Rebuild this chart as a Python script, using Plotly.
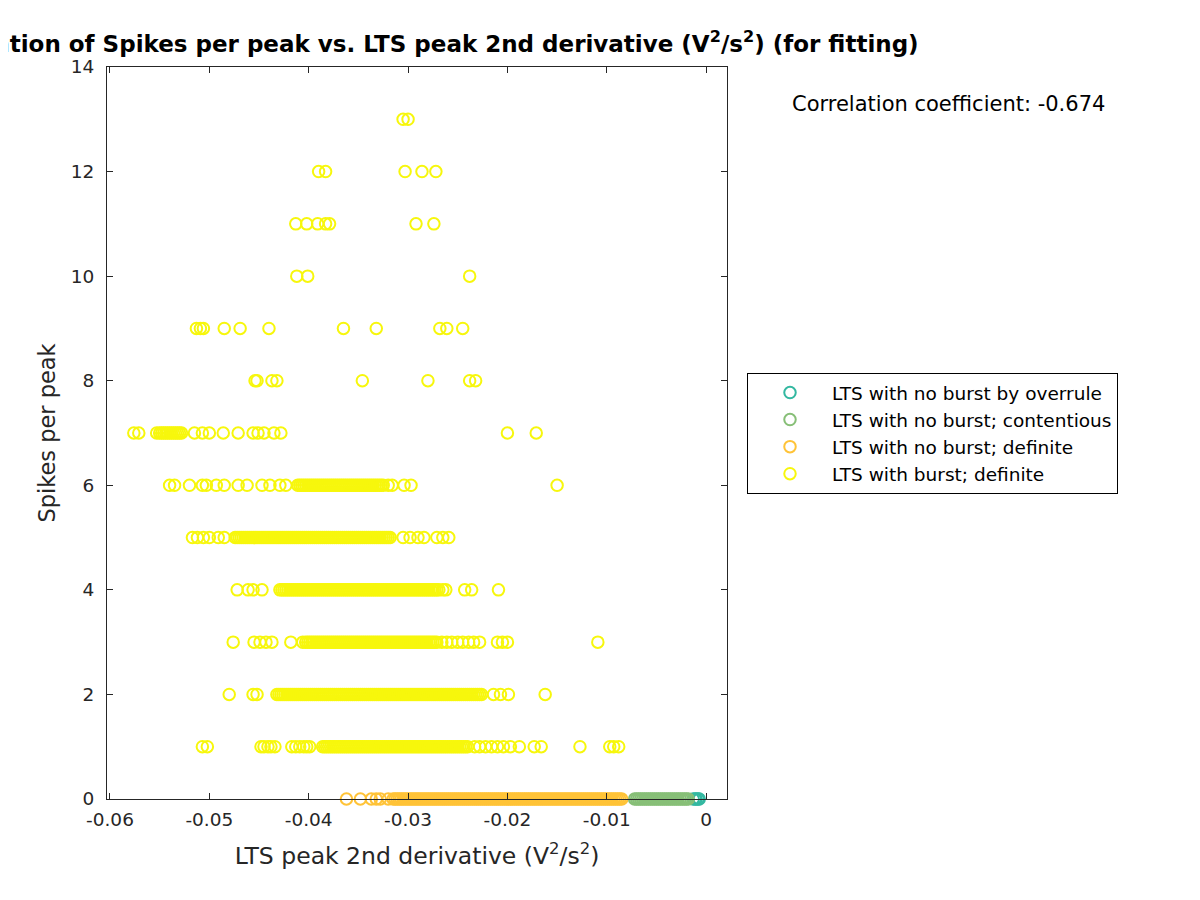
import numpy as np
import plotly.graph_objects as go

# x values in units of 1e-4 V^2/s^2, grouped by spikes-per-peak level
UNIT = 1e-4

burst_13 = [-305, -300]
burst_12 = [-390, -383, -303, -286, -272]
burst_11 = [-413, -402, -391, -383, -379, -292, -274]
burst_10 = [-412, -401, -238]
burst_9 = [-513, -509, -506, -485, -469, -440, -365, -332, -268, -261, -245]
burst_8 = [-454, -452, -437, -432, -346, -280, -238, -232]
burst_7 = [-576, -571, -553, -550, -548, -546, -544, -542, -540, -538, -536, -534, -532, -530, -528,
           -515, -507, -500, -486, -471, -456, -451, -445, -435, -428, -200, -171]
burst_6 = [-540, -535, -520, -507, -503, -493, -485, -471, -462, -447, -439, -429, -423,
           -411, -409, -407, -405, -403, -401, -399, -397, -395, -393, -391, -389, -387, -385, -383,
           -381, -379, -377, -375, -373, -371, -369, -367, -365, -363, -361, -359, -357, -355, -353,
           -351, -349, -347, -345, -343, -341, -339, -337, -335, -333, -331, -329, -327, -325,
           -320, -316, -304, -297, -150]
burst_5 = [-517, -512, -506, -500, -491, -485,
           -474, -472, -470, -468, -466, -464, -462, -460, -458, -456, -454, -452, -450, -448, -446,
           -444, -442, -440, -438, -436, -434, -432, -430, -428, -426, -424, -422, -420, -418, -416,
           -414, -412, -410, -408, -406, -404, -402, -400, -398, -396, -394, -392, -390, -388, -386,
           -384, -382, -380, -378, -376, -374, -372, -370, -368, -366, -364, -362, -360, -358, -356,
           -354, -352, -350, -348, -346, -344, -342, -340, -338, -336, -334, -332, -330, -328, -326,
           -324, -322, -320, -318,
           -305, -298, -290, -284, -271, -265, -259]
burst_4 = [-472, -461, -456, -447,
           -429, -427, -425, -423, -421, -419, -417, -415, -413, -411, -409, -407, -405, -403, -401,
           -399, -397, -395, -393, -391, -389, -387, -385, -383, -381, -379, -377, -375, -373, -371,
           -369, -367, -365, -363, -361, -359, -357, -355, -353, -351, -349, -347, -345, -343, -341,
           -339, -337, -335, -333, -331, -329, -327, -325, -323, -321, -319, -317, -315, -313, -311,
           -309, -307, -305, -303, -301, -299, -297, -295, -293, -291, -289, -287, -285, -283, -281,
           -279, -277, -275, -273, -271, -269,
           -265, -262, -243, -236, -209]
burst_3 = [-476, -455, -449, -443, -437, -418, -406,
           -403, -401, -399, -397, -395, -393, -391, -389, -387, -385, -383, -381, -379, -377, -375,
           -373, -371, -369, -367, -365, -363, -361, -359, -357, -355, -353, -351, -349, -347, -345,
           -343, -341, -339, -337, -335, -333, -331, -329, -327, -325, -323, -321, -319, -317, -315,
           -313, -311, -309, -307, -305, -303, -301, -299, -297, -295, -293, -291, -289, -287, -285,
           -283, -281, -279, -277, -275, -273, -271,
           -266, -261, -256, -250, -245, -239, -234, -228, -210, -205, -200, -109]
burst_2 = [-480, -456, -452,
           -432, -430, -428, -426, -424, -422, -420, -418, -416, -414, -412, -410, -408, -406, -404,
           -402, -400, -398, -396, -394, -392, -390, -388, -386, -384, -382, -380, -378, -376, -374,
           -372, -370, -368, -366, -364, -362, -360, -358, -356, -354, -352, -350, -348, -346, -344,
           -342, -340, -338, -336, -334, -332, -330, -328, -326, -324, -322, -320, -318, -316, -314,
           -312, -310, -308, -306, -304, -302, -300, -298, -296, -294, -292, -290, -288, -286, -284,
           -282, -280, -278, -276, -274, -272, -270, -268, -266, -264, -262, -260, -258, -256, -254,
           -252, -250, -248, -246, -244, -242, -240, -238, -236, -234, -232, -230, -228, -226,
           -214, -207, -199, -162]
burst_1 = [-507, -502, -448, -445, -441, -438, -434, -417, -413, -409, -405, -402, -399,
           -386, -384, -382, -380, -378, -376, -374, -372, -370, -368, -366, -364, -362, -360, -358,
           -356, -354, -352, -350, -348, -346, -344, -342, -340, -338, -336, -334, -332, -330, -328,
           -326, -324, -322, -320, -318, -316, -314, -312, -310, -308, -306, -304, -302, -300, -298,
           -296, -294, -292, -290, -288, -286, -284, -282, -280, -278, -276, -274, -272, -270, -268,
           -266, -264, -262, -260, -258, -256, -254, -252, -250, -248, -246, -244, -242, -240,
           -233, -228, -222, -216, -210, -204, -197, -188, -173, -166, -127, -97, -93, -88]

noburst_definite_0 = [-362, -348, -337, -332, -328, -320,
                      -315, -313, -311, -309, -307, -305, -303, -301, -299, -297, -295, -293, -291,
                      -289, -287, -285, -283, -281, -279, -277, -275, -273, -271, -269, -267, -265,
                      -263, -261, -259, -257, -255, -253, -251, -249, -247, -245, -243, -241, -239,
                      -237, -235, -233, -231, -229, -227, -225, -223, -221, -219, -217, -215, -213,
                      -211, -209, -207, -205, -203, -201, -199, -197, -195, -193, -191, -189, -187,
                      -185, -183, -181, -179, -177, -175, -173, -171, -169, -167, -165, -163, -161,
                      -159, -157, -155, -153, -151, -149, -147, -145, -143, -141, -139, -137, -135,
                      -133, -131, -129, -127, -125, -123, -121, -119, -117, -115, -113, -111, -109,
                      -107, -105, -103, -101, -99, -97, -95, -93, -91, -89, -87, -85]
noburst_contentious_0 = [-72, -70, -68, -66, -64, -62, -60, -58, -56, -54, -52, -50, -48, -46, -44,
                         -42, -40, -38, -36, -34, -32, -30, -28, -26, -24, -22, -20, -18]
noburst_overrule_0 = [-13, -11, -10, -8, -7]

burst_levels = {13: burst_13, 12: burst_12, 11: burst_11, 10: burst_10, 9: burst_9, 8: burst_8,
                7: burst_7, 6: burst_6, 5: burst_5, 4: burst_4, 3: burst_3, 2: burst_2, 1: burst_1}

series_names = ["LTS with no burst by overrule", "LTS with no burst; contentious",
                "LTS with no burst; definite", "LTS with burst; definite"]
series_colors = ["#33B8A1", "#87BF77", "#FFC337", "#F7F70C"]

x_ticks = [-0.06, -0.05, -0.04, -0.03, -0.02, -0.01, 0]
x_ticktext = ["-0.06", "-0.05", "-0.04", "-0.03", "-0.02", "-0.01", "0"]
y_ticks = [0, 2, 4, 6, 8, 10, 12, 14]

corr_text = "Correlation coefficient: -0.674"

burst_x, burst_y = [], []
for lvl, xs in burst_levels.items():
    burst_x += xs
    burst_y += [lvl] * len(xs)

series_x = [noburst_overrule_0, noburst_contentious_0, noburst_definite_0, burst_x]
series_y = [[0] * len(noburst_overrule_0), [0] * len(noburst_contentious_0),
            [0] * len(noburst_definite_0), burst_y]

FONT = "DejaVu Sans"
AX = "#262626"

fig = go.Figure()
for name, color, xs, ys in zip(series_names, series_colors, series_x, series_y):
    fig.add_trace(go.Scatter(
        x=np.array(xs) * UNIT, y=ys, mode="markers", name=name,
        marker=dict(symbol="circle-open", size=11.5, color=color, line=dict(width=2, color=color)),
        cliponaxis=False,
    ))

fig.update_layout(
    width=1200, height=900,
    paper_bgcolor="white", plot_bgcolor="white",
    margin=dict(l=99, r=481, t=59, b=109),
    font=dict(family=FONT, size=16, color=AX),
    title=dict(
        text="Correlation of Spikes per peak vs. LTS peak 2nd derivative (V<sup>2</sup>/s<sup>2</sup>) (for fitting)",
        font=dict(family=FONT, size=23, color="black", weight="bold"),
        xref="paper", x=0.5, xanchor="center", yref="container", y=1 - 36 / 900, yanchor="middle",
    ),
    showlegend=True,
    legend=dict(
        x=(747 - 107) / 620, y=(799 - 373) / 732, xanchor="left", yanchor="top",
        bordercolor="black", borderwidth=1, bgcolor="white",
        font=dict(family=FONT, size=18.5, color="black"),
        itemwidth=74, tracegroupgap=0,
    ),
    annotations=[dict(
        text=corr_text, xref="paper", yref="paper",
        x=(790 - 107) / 620, y=(799 - 104) / 732, xanchor="left", yanchor="middle",
        showarrow=False, font=dict(family=FONT, size=21, color="black"),
    )],
)
fig.update_xaxes(
    range=[-0.0603, 0.0021], tickvals=x_ticks, ticktext=x_ticktext,
    ticks="inside", ticklen=6, tickcolor=AX, showline=True, linecolor=AX, linewidth=1,
    mirror="ticks", showgrid=False, zeroline=False, ticklabelstandoff=4,
    tickfont=dict(family=FONT, size=18.5, color=AX),
    title=dict(text="LTS peak 2nd derivative (V<sup>2</sup>/s<sup>2</sup>)",
               font=dict(family=FONT, size=23.5, color=AX), standoff=18),
)
fig.update_yaxes(
    range=[0, 14], tickvals=y_ticks,
    ticks="inside", ticklen=6, tickcolor=AX, showline=True, linecolor=AX, linewidth=1,
    mirror="ticks", showgrid=False, zeroline=False, ticklabelstandoff=8,
    tickfont=dict(family=FONT, size=18.5, color=AX),
    title=dict(text="Spikes per peak", font=dict(family=FONT, size=22.5, color=AX), standoff=8),
)

fig.write_html("out.html")
